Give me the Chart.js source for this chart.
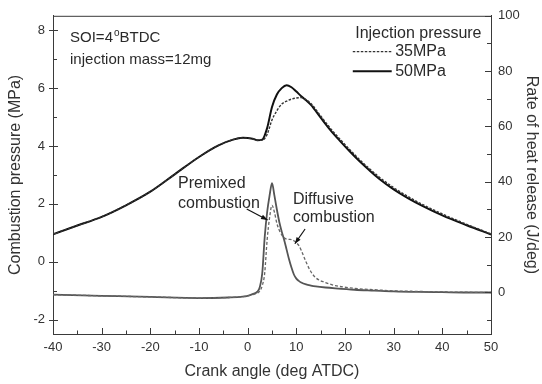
<!DOCTYPE html>
<html>
<head>
<meta charset="utf-8">
<script src="https://cdn.jsdelivr.net/npm/chart.js@4.4.1/dist/chart.umd.min.js"></script>
<style>
  html, body { margin: 0; padding: 0; background: #fff; }
  #wrap { width: 542px; height: 384px; }
</style>
</head>
<body>
<div id="wrap"><canvas id="chart"></canvas></div>
<script>
// crank angle (deg ATDC) for the pressure curves
const pressAngles = [-40, -35, -30, -25, -20, -15, -10, -6, -3, -1, 1, 2, 3, 4, 5, 6, 7, 8, 9, 10,
    11, 12, 13, 15, 17, 19, 21, 23, 25, 27, 30, 33, 36, 40, 45, 50];
// combustion pressure (MPa)
const press35 = [0.95, 1.25, 1.55, 1.95, 2.42, 3.02, 3.62, 4.02, 4.22, 4.28, 4.25, 4.20, 4.20, 4.40, 4.90, 5.22, 5.45, 5.55, 5.62, 5.66,
    5.67, 5.60, 5.47, 5.04, 4.61, 4.23, 3.87, 3.53, 3.22, 2.93, 2.56, 2.25, 1.97, 1.65, 1.29, 0.96];
const press50 = [0.95, 1.25, 1.55, 1.95, 2.42, 3.02, 3.62, 4.02, 4.22, 4.28, 4.25, 4.20, 4.22, 4.62, 5.35, 5.78, 6.00, 6.10, 6.03, 5.88,
    5.72, 5.58, 5.42, 4.98, 4.55, 4.17, 3.81, 3.47, 3.16, 2.87, 2.50, 2.19, 1.92, 1.60, 1.26, 0.94];

// crank angle for the heat release curves
const heatAngles = [-40, -30, -20, -10, -4, -1, 0, 1, 2, 2.5, 3, 3.5, 4, 4.5, 5, 5.5, 6, 6.5, 7, 7.5,
    8, 8.5, 9, 9.5, 10, 10.5, 11, 12, 13, 14, 16, 18, 22, 26, 30, 35, 40, 45, 50];
// rate of heat release (J/deg)
const heat35 = [-0.8, -1.2, -1.6, -2.0, -1.8, -1.5, -1.2, -0.8, -0.2, 0.5, 2.5, 7, 19, 27, 31.5, 29, 25, 22.5, 20.8, 19.8,
    19.3, 19.2, 19.1, 18.7, 18.0, 17.0, 15.3, 11.0, 7.5, 5.3, 3.6, 2.5, 1.5, 1.0, 0.6, 0.4, 0.2, 0.1, 0.0];
const heat50 = [-0.8, -1.2, -1.6, -2.0, -1.8, -1.5, -1.2, -0.6, 0.3, 2.0, 7.0, 20, 29, 35, 39.5, 35, 30, 25.5, 22, 19,
    15.5, 12, 9, 6.5, 5.0, 4.2, 3.6, 2.9, 2.5, 2.2, 1.8, 1.5, 1.0, 0.7, 0.4, 0.2, 0.1, 0.0, 0.0];

// tick labels
const xTicks = [-40, -30, -20, -10, 0, 10, 20, 30, 40, 50];
const pressTicks = [-2, 0, 2, 4, 6, 8];
const heatTicks = [0, 20, 40, 60, 80, 100];
const seriesNames = ['35MPa', '50MPa'];

const FONT = "'Liberation Sans', Arial, sans-serif";
const axisColor = '#3a3a3a';
const textColor = '#2a2a2a';

const pts = (xs, ys) => xs.map((x, i) => ({x: x, y: ys[i]}));
const setTicks = list => scale => { scale.ticks = list.map(v => ({value: v})); };
const midpoints = list => list.slice(0, -1).map((v, i) => (v + list[i + 1]) / 2);

const line = (ctx, x1, y1, x2, y2) => {
    ctx.beginPath();
    ctx.moveTo(x1, y1);
    ctx.lineTo(x2, y2);
    ctx.stroke();
};

// top border and inward tick marks
const frame = {
    id: 'frame',
    afterDraw(chart) {
        const {ctx, chartArea: a, scales} = chart;
        ctx.save();
        ctx.strokeStyle = axisColor;
        ctx.lineWidth = 1;
        line(ctx, a.left, a.top + 0.5, a.right, a.top + 0.5);

        xTicks.forEach(v => { const p = Math.round(scales.x.getPixelForValue(v)) + 0.5; line(ctx, p, a.bottom, p, a.bottom - 6); });
        midpoints(xTicks).forEach(v => { const p = Math.round(scales.x.getPixelForValue(v)) + 0.5; line(ctx, p, a.bottom, p, a.bottom - 3.5); });

        pressTicks.concat([-1, 1, 3, 5, 7]).forEach(v => {
            const p = Math.round(scales.yP.getPixelForValue(v)) + 0.5;
            const major = pressTicks.includes(v);
            line(ctx, a.left - (major ? 4 : 0), p, a.left + (major ? 5 : 4), p);
        });
        heatTicks.concat([-10, 10, 30, 50, 70, 90]).forEach(v => {
            const p = Math.round(scales.yH.getPixelForValue(v)) + 0.5;
            line(ctx, a.right, p, a.right - (heatTicks.includes(v) ? 6 : 4), p);
        });
        ctx.restore();
    }
};

// text notes, legend and arrows placed through the scales
const notes = {
    id: 'notes',
    afterDatasetsDraw(chart) {
        const {ctx, scales} = chart;
        const X = v => scales.x.getPixelForValue(v);
        const Y = v => scales.yP.getPixelForValue(v);
        ctx.save();
        ctx.fillStyle = textColor;
        ctx.textBaseline = 'middle';
        ctx.textAlign = 'left';
        ctx.font = '15px ' + FONT;

        // SOI=4°BTDC with a raised o
        let x = X(-36.5), y = Y(7.74);
        ctx.fillText('SOI=4', x, y);
        x += ctx.measureText('SOI=4').width + 1;
        ctx.font = '10px ' + FONT;
        ctx.fillText('o', x, y - 5);
        x += ctx.measureText('o').width;
        ctx.font = '15px ' + FONT;
        ctx.fillText('BTDC', x, y);
        ctx.fillText('injection mass=12mg', X(-36.5), Y(6.99));

        ctx.font = '16px ' + FONT;
        ctx.fillText('Injection pressure', X(22.1), Y(7.88));
        const ds = chart.data.datasets;
        [[7.26, ds[0]], [6.58, ds[1]]].forEach(([v, d], i) => {
            ctx.save();
            ctx.strokeStyle = d.borderColor;
            ctx.lineWidth = d.borderWidth;
            ctx.setLineDash(d.borderDash || []);
            line(ctx, X(21.6), Y(v), X(29.6), Y(v));
            ctx.restore();
            ctx.fillText(seriesNames[i], X(30.3), Y(v));
        });

        ctx.fillText('Premixed', X(-14.3), Y(2.71));
        ctx.fillText('combustion', X(-14.3), Y(2.02));
        ctx.fillText('Diffusive', X(9.3), Y(2.16));
        ctx.fillText('combustion', X(9.3), Y(1.51));

        const arrow = (x1, y1, x2, y2) => {
            ctx.strokeStyle = '#111';
            ctx.fillStyle = '#111';
            ctx.lineWidth = 1.2;
            line(ctx, x1, y1, x2, y2);
            const ang = Math.atan2(y2 - y1, x2 - x1);
            ctx.beginPath();
            ctx.moveTo(x2, y2);
            ctx.lineTo(x2 - 7 * Math.cos(ang - 0.35), y2 - 7 * Math.sin(ang - 0.35));
            ctx.lineTo(x2 - 7 * Math.cos(ang + 0.35), y2 - 7 * Math.sin(ang + 0.35));
            ctx.closePath();
            ctx.fill();
        };
        arrow(X(-0.2), Y(1.82), X(4.1), Y(1.44));
        arrow(X(11.8), Y(1.13), X(9.7), Y(0.62));
        ctx.restore();
    }
};

new Chart(document.getElementById('chart'), {
    type: 'line',
    data: {
        datasets: [{
            label: '35MPa pressure',
            data: pts(pressAngles, press35),
            yAxisID: 'yP',
            borderColor: '#333',
            borderWidth: 1.4,
            borderDash: [2.5, 1.5],
        }, {
            label: '50MPa pressure',
            data: pts(pressAngles, press50),
            yAxisID: 'yP',
            borderColor: '#111',
            borderWidth: 2,
        }, {
            label: '35MPa heat release',
            data: pts(heatAngles, heat35),
            yAxisID: 'yH',
            borderColor: '#666',
            borderWidth: 1.3,
            borderDash: [3, 2],
        }, {
            label: '50MPa heat release',
            data: pts(heatAngles, heat50),
            yAxisID: 'yH',
            borderColor: '#555',
            borderWidth: 1.8,
        }]
    },
    options: {
        responsive: true,
        maintainAspectRatio: false,
        animation: false,
        layout: { padding: { top: 13, left: 0, right: 0, bottom: 0 } },
        elements: {
            point: { radius: 0 },
            line: { cubicInterpolationMode: 'monotone', fill: false }
        },
        plugins: { legend: { display: false }, tooltip: { enabled: false } },
        scales: {
            x: {
                type: 'linear',
                min: -40,
                max: 50,
                afterBuildTicks: setTicks(xTicks),
                afterFit: s => { s.height = 50; },
                grid: { display: false, drawTicks: false },
                border: { display: true, color: axisColor, width: 1 },
                ticks: { color: '#333', font: { family: FONT, size: 13 }, padding: 6, maxRotation: 0 },
                title: { display: true, text: 'Crank angle (deg ATDC)', color: '#333', font: { family: FONT, size: 16 }, padding: { top: 0, bottom: 3 } }
            },
            yP: {
                position: 'left',
                min: -2.5,
                max: 8.5,
                afterBuildTicks: setTicks(pressTicks),
                afterFit: s => { s.width = 53; },
                grid: { display: false, drawTicks: false },
                border: { display: true, color: axisColor, width: 1 },
                ticks: { color: '#333', font: { family: FONT, size: 13 }, padding: 8 },
                title: { display: true, text: 'Combustion pressure (MPa)', color: '#333', font: { family: FONT, size: 16 }, padding: { top: 6, bottom: 0 } }
            },
            yH: {
                position: 'right',
                min: -15,
                max: 100,
                afterBuildTicks: setTicks(heatTicks),
                afterFit: s => { s.width = 51; },
                grid: { display: false, drawTicks: false },
                border: { display: true, color: axisColor, width: 1 },
                ticks: { color: '#333', font: { family: FONT, size: 13 }, padding: 7 },
                title: { display: true, text: 'Rate of heat release (J/deg)', color: '#333', font: { family: FONT, size: 16 }, padding: { top: 1, bottom: 1 } }
            }
        }
    },
    plugins: [frame, notes]
});
</script>
</body>
</html>
